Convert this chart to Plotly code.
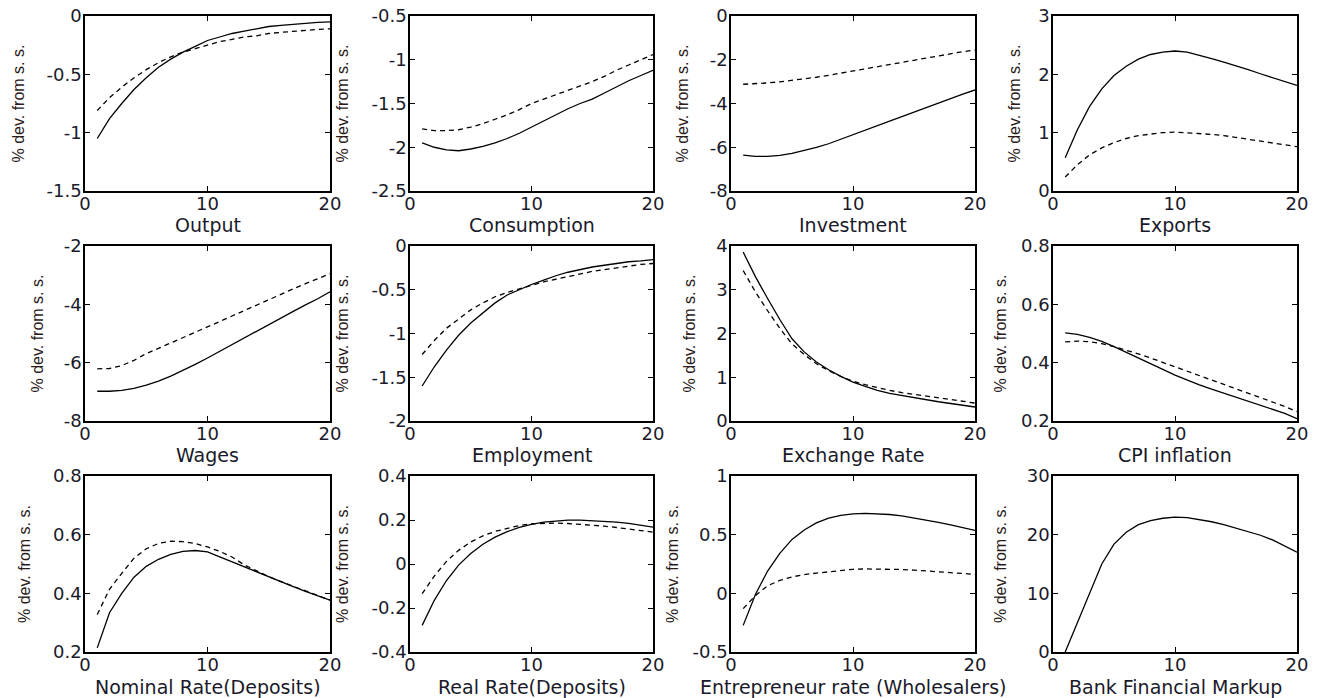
import plotly.graph_objects as go

periods = list(range(1, 21))

titles = ["Output", "Consumption", "Investment", "Exports",
          "Wages", "Employment", "Exchange Rate", "CPI inflation",
          "Nominal Rate(Deposits)", "Real Rate(Deposits)",
          "Entrepreneur rate (Wholesalers)", "Bank Financial Markup"]

output_solid = [-1.05, -0.88, -0.75, -0.63, -0.53, -0.44, -0.37, -0.31, -0.26, -0.21,
                -0.18, -0.15, -0.13, -0.11, -0.09, -0.08, -0.07, -0.06, -0.055, -0.05]
output_dash = [-0.81, -0.70, -0.61, -0.53, -0.46, -0.40, -0.35, -0.31, -0.28, -0.25,
               -0.22, -0.20, -0.18, -0.17, -0.15, -0.14, -0.13, -0.12, -0.115, -0.11]

cons_solid = [-1.95, -2.00, -2.03, -2.04, -2.02, -1.99, -1.95, -1.90, -1.84, -1.77,
              -1.70, -1.63, -1.56, -1.50, -1.45, -1.38, -1.31, -1.24, -1.18, -1.12]
cons_dash = [-1.79, -1.81, -1.81, -1.80, -1.77, -1.73, -1.68, -1.63, -1.57, -1.50,
             -1.45, -1.40, -1.35, -1.30, -1.25, -1.19, -1.12, -1.06, -1.00, -0.94]

inv_solid = [-6.36, -6.42, -6.42, -6.37, -6.28, -6.16, -6.01, -5.84, -5.64, -5.44,
             -5.23, -5.02, -4.81, -4.60, -4.39, -4.18, -3.97, -3.77, -3.57, -3.38]
inv_dash = [-3.12, -3.10, -3.06, -3.01, -2.95, -2.88, -2.80, -2.71, -2.61, -2.50,
            -2.40, -2.30, -2.20, -2.10, -2.00, -1.90, -1.80, -1.71, -1.63, -1.56]

exp_solid = [0.57, 1.05, 1.45, 1.75, 1.98, 2.14, 2.26, 2.34, 2.38, 2.40,
             2.38, 2.33, 2.27, 2.21, 2.15, 2.08, 2.01, 1.94, 1.87, 1.81]
exp_dash = [0.24, 0.45, 0.62, 0.74, 0.83, 0.90, 0.95, 0.98, 1.00, 1.01,
            1.00, 0.99, 0.97, 0.95, 0.92, 0.89, 0.86, 0.83, 0.80, 0.76]

wage_solid = [-6.98, -6.98, -6.95, -6.88, -6.77, -6.63, -6.46, -6.27, -6.06, -5.84,
              -5.61, -5.38, -5.14, -4.91, -4.68, -4.46, -4.24, -4.02, -3.81, -3.57]
wage_dash = [-6.21, -6.20, -6.10, -5.92, -5.69, -5.51, -5.33, -5.15, -4.97, -4.78,
             -4.59, -4.40, -4.21, -4.02, -3.83, -3.65, -3.47, -3.29, -3.12, -2.95]

emp_solid = [-1.60, -1.38, -1.19, -1.02, -0.88, -0.76, -0.65, -0.56, -0.50, -0.44,
             -0.39, -0.34, -0.30, -0.27, -0.24, -0.22, -0.20, -0.18, -0.17, -0.155]
emp_dash = [-1.24, -1.08, -0.94, -0.83, -0.73, -0.65, -0.58, -0.53, -0.49, -0.45,
            -0.41, -0.38, -0.35, -0.32, -0.29, -0.27, -0.25, -0.23, -0.21, -0.20]

fx_solid = [3.86, 3.30, 2.80, 2.32, 1.88, 1.58, 1.35, 1.17, 1.02, 0.89,
            0.79, 0.70, 0.63, 0.58, 0.53, 0.48, 0.44, 0.40, 0.36, 0.32]
fx_dash = [3.44, 2.95, 2.52, 2.12, 1.76, 1.52, 1.31, 1.15, 1.02, 0.91,
           0.83, 0.76, 0.70, 0.65, 0.61, 0.57, 0.53, 0.49, 0.45, 0.41]

cpi_solid = [0.502, 0.497, 0.487, 0.473, 0.455, 0.436, 0.416, 0.397, 0.377, 0.357,
             0.340, 0.324, 0.309, 0.295, 0.281, 0.267, 0.252, 0.240, 0.226, 0.208]
cpi_dash = [0.471, 0.474, 0.472, 0.465, 0.455, 0.443, 0.430, 0.416, 0.401, 0.386,
            0.371, 0.356, 0.341, 0.326, 0.311, 0.296, 0.281, 0.266, 0.250, 0.232]

nom_solid = [0.214, 0.334, 0.400, 0.455, 0.492, 0.516, 0.533, 0.543, 0.546, 0.541,
             0.524, 0.507, 0.490, 0.472, 0.455, 0.439, 0.423, 0.407, 0.392, 0.377]
nom_dash = [0.328, 0.414, 0.468, 0.520, 0.552, 0.570, 0.578, 0.576, 0.570, 0.558,
            0.543, 0.524, 0.497, 0.476, 0.457, 0.440, 0.424, 0.408, 0.392, 0.377]

real_solid = [-0.279, -0.165, -0.075, -0.005, 0.048, 0.090, 0.122, 0.147, 0.166, 0.180,
              0.190, 0.196, 0.199, 0.199, 0.197, 0.194, 0.190, 0.185, 0.178, 0.168]
real_dash = [-0.135, -0.055, 0.012, 0.062, 0.100, 0.128, 0.148, 0.163, 0.175, 0.183,
             0.186, 0.186, 0.184, 0.181, 0.177, 0.172, 0.166, 0.160, 0.153, 0.145]

ent_solid = [-0.273, -0.01, 0.19, 0.34, 0.46, 0.54, 0.60, 0.64, 0.665, 0.678,
             0.682, 0.680, 0.672, 0.660, 0.643, 0.624, 0.604, 0.584, 0.561, 0.537]
ent_dash = [-0.13, -0.02, 0.065, 0.11, 0.14, 0.16, 0.172, 0.185, 0.197, 0.205,
            0.208, 0.208, 0.206, 0.203, 0.198, 0.190, 0.180, 0.172, 0.167, 0.162]

markup_solid = [0.0, 5.0, 10.3, 15.0, 18.4, 20.4, 21.7, 22.4, 22.8, 23.0,
                22.9, 22.6, 22.2, 21.7, 21.1, 20.5, 19.9, 19.1, 18.1, 17.0]

solid_series = [output_solid, cons_solid, inv_solid, exp_solid,
                wage_solid, emp_solid, fx_solid, cpi_solid,
                nom_solid, real_solid, ent_solid, markup_solid]
dash_series = [output_dash, cons_dash, inv_dash, exp_dash,
               wage_dash, emp_dash, fx_dash, cpi_dash,
               nom_dash, real_dash, ent_dash, None]

y_tick_vals = [[-1.5, -1, -0.5, 0], [-2.5, -2, -1.5, -1, -0.5], [-8, -6, -4, -2, 0], [0, 1, 2, 3],
               [-8, -6, -4, -2], [-2, -1.5, -1, -0.5, 0], [0, 1, 2, 3, 4], [0.2, 0.4, 0.6, 0.8],
               [0.2, 0.4, 0.6, 0.8], [-0.4, -0.2, 0, 0.2, 0.4], [-0.5, 0, 0.5, 1], [0, 10, 20, 30]]
y_tick_text = [["-1.5", "-1", "-0.5", "0"], ["-2.5", "-2", "-1.5", "-1", "-0.5"],
               ["-8", "-6", "-4", "-2", "0"], ["0", "1", "2", "3"],
               ["-8", "-6", "-4", "-2"], ["-2", "-1.5", "-1", "-0.5", "0"],
               ["0", "1", "2", "3", "4"], ["0.2", "0.4", "0.6", "0.8"],
               ["0.2", "0.4", "0.6", "0.8"], ["-0.4", "-0.2", "0", "0.2", "0.4"],
               ["-0.5", "0", "0.5", "1"], ["0", "10", "20", "30"]]
x_tick_vals = [0, 10, 20]
x_tick_text = ["0", "10", "20"]
y_label = "% dev. from s. s."

# page offset from the default 8px body margin of the html page
OFF = 8
W, H = 1320 - OFF, 698 - OFF
col_px = [(85, 330), (410, 653), (731, 975), (1053, 1297)]
row_px = [(16, 191), (246, 421), (476, 652)]
ytitle_x = [[18, 342, 682, 1014], [37, 342, 689, 1000], [24, 342, 672, 1000]]
xtitle_y = [225, 455, 687]


def px_x(p):
    return (p - OFF) / W


def px_y(p):
    return 1 - (p - OFF) / H


TICK_FONT = dict(family="DejaVu Sans", size=18, color="#1a1a2a")
fig = go.Figure()
layout = dict(width=W, height=H, margin=dict(l=0, r=0, t=0, b=0, pad=0, autoexpand=False),
              paper_bgcolor="white", plot_bgcolor="white", showlegend=False)
annotations = []

for i in range(12):
    r, c = divmod(i, 4)
    n = i + 1
    xa = "x" if n == 1 else f"x{n}"
    ya = "y" if n == 1 else f"y{n}"
    x0, x1 = col_px[c]
    t0, b0 = row_px[r]
    fig.add_trace(go.Scatter(x=periods, y=solid_series[i], mode="lines",
                             line=dict(color="black", width=1.3), xaxis=xa, yaxis=ya))
    if dash_series[i] is not None:
        fig.add_trace(go.Scatter(x=periods, y=dash_series[i], mode="lines",
                                 line=dict(color="black", width=1.3, dash="5px,4px"),
                                 xaxis=xa, yaxis=ya))
    yv = y_tick_vals[i]
    common = dict(showline=True, linecolor="black", linewidth=1.5, mirror="ticks",
                  ticks="inside", ticklen=5, tickcolor="black", tickwidth=1,
                  showgrid=False, zeroline=False, tickfont=TICK_FONT, fixedrange=True,
                  automargin=False, ticklabeloverflow="allow")
    layout["xaxis" if n == 1 else f"xaxis{n}"] = dict(
        domain=[px_x(x0), px_x(x1)], anchor=ya, range=[0, 20], ticklabelstandoff=-4,
        tickmode="array", tickvals=x_tick_vals, ticktext=x_tick_text, **common)
    layout["yaxis" if n == 1 else f"yaxis{n}"] = dict(
        domain=[px_y(b0), px_y(t0)], anchor=xa, range=[yv[0], yv[-1]], ticklabelstandoff=-2,
        tickmode="array", tickvals=yv, ticktext=y_tick_text[i], **common)
    annotations.append(dict(text=titles[i], xref="paper", yref="paper",
                            x=px_x((x0 + x1) / 2), y=px_y(xtitle_y[r]),
                            xanchor="center", yanchor="middle", showarrow=False,
                            font=dict(family="DejaVu Sans", size=19, color="#1a1a2a")))
    annotations.append(dict(text=y_label, xref="paper", yref="paper",
                            x=px_x(ytitle_x[r][c]), y=px_y((t0 + b0) / 2),
                            xanchor="center", yanchor="middle", showarrow=False, textangle=-90,
                            font=dict(family="Liberation Sans", size=16, color="#2a1a1a")))

layout["annotations"] = annotations
fig.update_layout(**layout)
fig.write_html("out.html")
